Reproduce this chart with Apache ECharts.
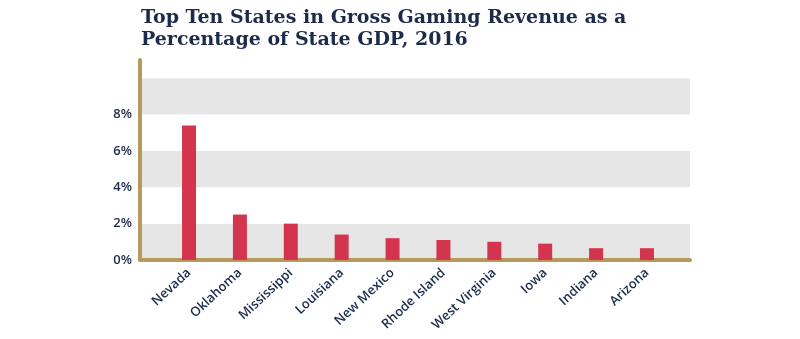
<!DOCTYPE html>
<html>
<head>
<meta charset="utf-8">
<script src="https://cdn.jsdelivr.net/npm/echarts@6/dist/echarts.min.js"></script>
<style>
  html, body { margin: 0; padding: 0; background: #fff; }
  #chart { width: 800px; height: 339px; }
</style>
</head>
<body>
<div id="chart"></div>
<script>
// Gross gaming revenue as a share of state GDP, 2016
const states = ['Nevada', 'Oklahoma', 'Mississippi', 'Louisiana', 'New Mexico',
                'Rhode Island', 'West Virginia', 'Iowa', 'Indiana', 'Arizona'];
const sharePct = [7.4, 2.5, 2.0, 1.4, 1.2, 1.1, 1.0, 0.9, 0.65, 0.65];
const yTicks = [0, 2, 4, 6, 8];

const navy = '#1c2b4b';
const gold = '#b59a5c';
const red = '#d4354e';

const chart = echarts.init(document.getElementById('chart'), null, { renderer: 'canvas' });

chart.setOption({
  animation: false,
  backgroundColor: '#fff',
  title: {
    text: 'Top Ten States in Gross Gaming Revenue as a\nPercentage of State GDP, 2016',
    left: 136,
    top: 2,
    textStyle: {
      fontFamily: 'DejaVu Serif',
      fontWeight: 'bold',
      fontSize: 19,
      lineHeight: 22,
      color: navy
    }
  },
  grid: [
    // frame: banded background, gold axes, percentage labels
    { left: 140, right: 110, top: 60, bottom: 79 },
    // bars and state names
    { left: 163.6, right: 127.6, top: 60, bottom: 79 }
  ],
  xAxis: [
    {
      gridIndex: 0,
      type: 'category',
      data: states,
      axisLine: { show: true, lineStyle: { color: gold, width: 4 } },
      axisTick: { show: false },
      axisLabel: { show: false },
      splitLine: { show: false }
    },
    {
      gridIndex: 1,
      type: 'category',
      data: states,
      axisLine: { show: false },
      axisTick: { show: false },
      axisLabel: {
        rotate: 43,
        margin: 11,
        fontFamily: 'Open Sans',
        fontWeight: 600,
        fontSize: 13,
        color: navy,
        interval: 0
      }
    }
  ],
  yAxis: [
    {
      gridIndex: 0,
      type: 'value',
      min: 0,
      max: 11,
      interval: 2,
      axisLine: { show: true, lineStyle: { color: gold, width: 4 } },
      axisTick: { show: false },
      splitLine: { show: false },
      splitArea: { show: true, areaStyle: { color: ['#e6e6e6', '#ffffff'] } },
      axisLabel: {
        margin: 8,
        showMaxLabel: false,
        fontFamily: 'Open Sans',
        fontWeight: 600,
        fontSize: 13,
        color: navy,
        formatter: v => (yTicks.indexOf(v) >= 0 ? v + '%' : '')
      }
    },
    {
      gridIndex: 1,
      type: 'value',
      min: 0,
      max: 11,
      interval: 2,
      show: false
    }
  ],
  series: [
    {
      type: 'bar',
      xAxisIndex: 1,
      yAxisIndex: 1,
      data: sharePct,
      barWidth: 14,
      itemStyle: { color: red },
      z: 1
    }
  ]
});
</script>
</body>
</html>
